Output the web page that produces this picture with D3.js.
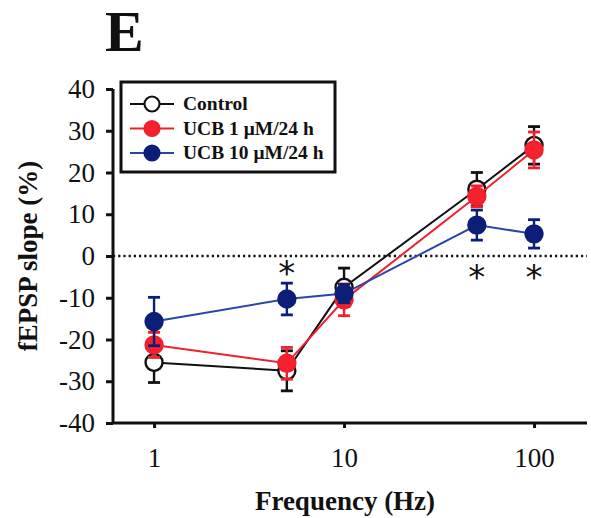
<!DOCTYPE html>
<html>
<head>
<meta charset="utf-8">
<script src="https://cdn.jsdelivr.net/npm/d3@7"></script>
<style>
  html, body { margin: 0; padding: 0; background: #fff; }
  svg { display: block; }
  text { font-family: "Liberation Serif", "Times New Roman", serif; fill: #111; }
</style>
</head>
<body>
<svg id="chart" width="591" height="518"></svg>
<script>
// ---- data ----
const frequencies = [1, 5, 10, 50, 100];
const xTickValues = [1, 10, 100];
const yTickValues = [-40, -30, -20, -10, 0, 10, 20, 30, 40];
const seriesNames = ["Control", "UCB 1 \u03BCM/24 h", "UCB 10 \u03BCM/24 h"];
const controlMean = [-25.5, -27.5, -7.5, 16, 26.5];
const controlSem  = [4.8, 4.8, 4.6, 4.0, 4.5];
const ucb1Mean    = [-21.3, -25.7, -10.5, 14.3, 25.4];
const ucb1Sem     = [3.0, 3.8, 3.8, 2.5, 4.3];
const ucb10Mean   = [-15.7, -10.3, -9.0, 7.4, 5.3];
const ucb10Sem    = [5.8, 3.8, 2.2, 3.6, 3.4];
const asteriskAbove = [5];
const asteriskBelow = [50, 100];

// ---- layout ----
const svg = d3.select("#chart");
const pLeft = 113, pRight = 587, pTop = 89, pBottom = 423;
const x = d3.scaleLog().domain([0.608, 190]).range([pLeft, pRight]);
const y = d3.scaleLinear().domain([-40, 40]).range([pBottom, pTop]);

const styles = [
  { line: "#111", stroke: "#111", fill: "#fff" },
  { line: "#f0202e", stroke: "#f0202e", fill: "#f5222d" },
  { line: "#2a46a8", stroke: "#0c1f78", fill: "#0c1f78" }
];
const series = [
  { name: seriesNames[0], mean: controlMean, sem: controlSem, s: styles[0] },
  { name: seriesNames[1], mean: ucb1Mean, sem: ucb1Sem, s: styles[1] },
  { name: seriesNames[2], mean: ucb10Mean, sem: ucb10Sem, s: styles[2] }
];

// panel letter
svg.append("text").attr("x", 105).attr("y", 51)
  .style("font-size", "58px").style("font-weight", "bold").text("E");

// zero dotted line
svg.append("line")
  .attr("x1", pLeft).attr("x2", pRight)
  .attr("y1", y(0)).attr("y2", y(0))
  .attr("stroke", "#111").attr("stroke-width", 2.4)
  .attr("stroke-dasharray", "2.2,3");

// axes
const fmt = d => String(d);
const yAxis = svg.append("g").attr("transform", `translate(${pLeft},0)`)
  .call(d3.axisLeft(y).tickValues(yTickValues).tickSize(7).tickPadding(11).tickFormat(fmt));
const xAxis = svg.append("g").attr("transform", `translate(0,${pBottom})`)
  .call(d3.axisBottom(x).tickValues(xTickValues).tickSize(5).tickPadding(20).tickFormat(fmt));
[yAxis, xAxis].forEach(g => {
  g.select(".domain").attr("stroke", "#111").attr("stroke-width", 3);
  g.selectAll(".tick line").attr("stroke", "#111").attr("stroke-width", 3);
  g.selectAll(".tick text").style("font-family", '"Liberation Serif", serif')
    .style("font-size", "27px").attr("fill", "#222");
});
yAxis.select(".domain").attr("d", `M0,${pBottom}V${pTop}`);
xAxis.select(".domain").attr("d", `M${pLeft},0H${pRight}`);

// axis titles
svg.append("text")
  .attr("transform", `translate(37,${(pTop + pBottom) / 2}) rotate(-90)`)
  .attr("text-anchor", "middle")
  .style("font-size", "27px").style("font-weight", "bold")
  .text("fEPSP slope (%)");
svg.append("text")
  .attr("x", 345).attr("y", 510).attr("text-anchor", "middle")
  .style("font-size", "27px").style("font-weight", "bold")
  .text("Frequency (Hz)");

// series
const lineGen = d3.line().x(d => x(d.f)).y(d => y(d.m));
const cap = 6, r = 8.5;
series.forEach(se => {
  const pts = frequencies.map((f, i) => ({ f, m: se.mean[i], e: se.sem[i] }));
  const g = svg.append("g");
  g.append("path").datum(pts).attr("d", lineGen)
    .attr("fill", "none").attr("stroke", se.s.line).attr("stroke-width", 2);
  const eb = g.selectAll(".eb").data(pts).enter().append("g");
  eb.append("line").attr("x1", d => x(d.f)).attr("x2", d => x(d.f))
    .attr("y1", d => y(d.m - d.e)).attr("y2", d => y(d.m + d.e))
    .attr("stroke", se.s.stroke).attr("stroke-width", 2.4);
  [1, -1].forEach(sg => {
    eb.append("line").attr("x1", d => x(d.f) - cap).attr("x2", d => x(d.f) + cap)
      .attr("y1", d => y(d.m + sg * d.e)).attr("y2", d => y(d.m + sg * d.e))
      .attr("stroke", se.s.stroke).attr("stroke-width", 2.8);
  });
  g.selectAll(".pt").data(pts).enter().append("circle")
    .attr("cx", d => x(d.f)).attr("cy", d => y(d.m)).attr("r", r)
    .attr("fill", se.s.fill).attr("stroke", se.s.stroke).attr("stroke-width", 2.4);
});

// asterisks
svg.selectAll(".astA").data(asteriskAbove).enter().append("text")
  .attr("x", d => x(d)).attr("y", 285).attr("text-anchor", "middle")
  .style("font-size", "34px").style("font-family", '"DejaVu Sans", sans-serif').text("*");
svg.selectAll(".astB").data(asteriskBelow).enter().append("text")
  .attr("x", d => x(d)).attr("y", 289).attr("text-anchor", "middle")
  .style("font-size", "34px").style("font-family", '"DejaVu Sans", sans-serif').text("*");

// legend
const lg = svg.append("g");
lg.append("rect").attr("x", 121).attr("y", 82).attr("width", 214).attr("height", 90)
  .attr("fill", "#fff").attr("stroke", "#111").attr("stroke-width", 3);
series.forEach((se, i) => {
  const cy = 104 + i * 24.5;
  lg.append("line").attr("x1", 130).attr("x2", 174).attr("y1", cy).attr("y2", cy)
    .attr("stroke", se.s.line).attr("stroke-width", 2);
  lg.append("circle").attr("cx", 152).attr("cy", cy).attr("r", 7.5)
    .attr("fill", se.s.fill).attr("stroke", se.s.stroke).attr("stroke-width", 2.2);
  lg.append("text").attr("x", 183).attr("y", cy + 6)
    .style("font-size", "19.5px").style("font-weight", "bold").attr("fill", "#222")
    .text(se.name);
});
</script>
</body>
</html>
